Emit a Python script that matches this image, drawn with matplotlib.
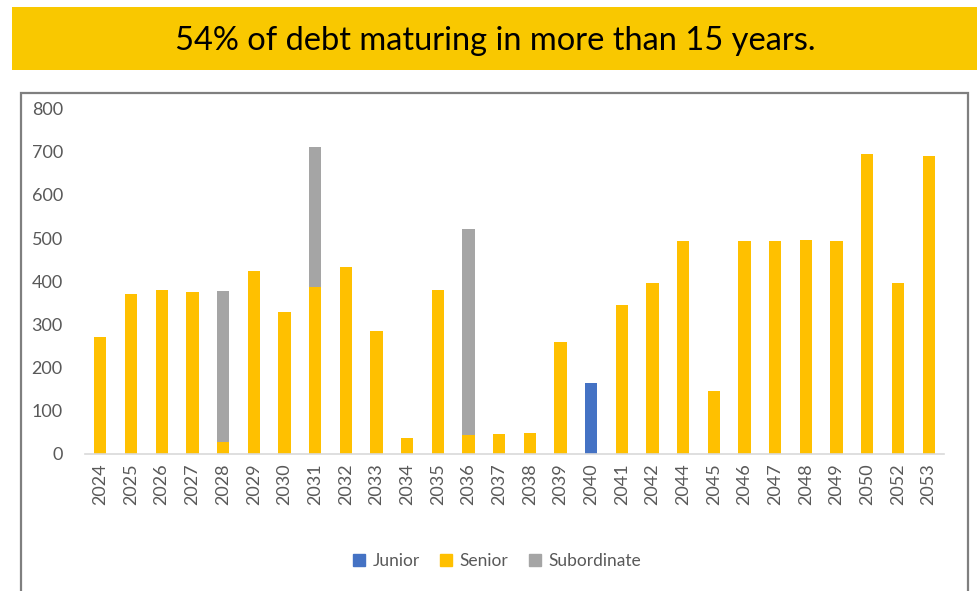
import matplotlib.pyplot as plt
import matplotlib.patches as mpatches
import numpy as np

years = ['2024', '2025', '2026', '2027', '2028', '2029', '2030', '2031', '2032', '2033',
         '2034', '2035', '2036', '2037', '2038', '2039', '2040', '2041', '2042', '2044',
         '2045', '2046', '2047', '2048', '2049', '2050', '2052', '2053']
junior = [0, 0, 0, 0, 0, 0, 0, 0, 0, 0,
          0, 0, 0, 0, 0, 0, 164, 0, 0, 0,
          0, 0, 0, 0, 0, 0, 0, 0]
senior = [272, 371, 379, 374, 28, 423, 329, 387, 434, 285,
          38, 379, 43, 46, 49, 259, 0, 345, 397, 494,
          147, 494, 494, 496, 494, 694, 395, 691]
subordinate = [0, 0, 0, 0, 349, 0, 0, 323, 0, 0,
               0, 0, 479, 0, 0, 0, 0, 0, 0, 0,
               0, 0, 0, 0, 0, 0, 0, 0]

c_junior = '#4472C4'
c_senior = '#FFC000'
c_sub = '#A5A5A5'

plt.rcParams['font.family'] = ['Lato', 'DejaVu Sans']

fig = plt.figure(figsize=(9.77, 5.91), dpi=100)
W, H = 977, 591

# yellow title banner
fig.patches.append(mpatches.Rectangle((12 / W, 1 - 70 / H), 965 / W, 63 / H,
                                      transform=fig.transFigure, facecolor='#F9C800',
                                      edgecolor='none', zorder=0))
fig.text(495 / W, 1 - 41 / H, '54% of debt maturing in more than 15 years.',
         ha='center', va='center', fontsize=23.5, color='black')

# chart frame
fig.patches.append(mpatches.Rectangle((21 / W, -0.05), 947 / W, 1 - 93 / H + 0.05,
                                      transform=fig.transFigure, fill=False,
                                      edgecolor='#7F7F7F', lw=1.6, zorder=0))

ax = fig.add_axes([85 / W, 1 - 454 / H, 859 / W, 345.5 / H])
ax.set_zorder(2)
x = np.arange(len(years))
w = 0.4
ax.bar(x, junior, w, color=c_junior, label='Junior')
ax.bar(x, senior, w, bottom=junior, color=c_senior, label='Senior')
ax.bar(x, subordinate, w, bottom=np.array(junior) + np.array(senior), color=c_sub,
       label='Subordinate')

ax.set_xlim(-0.5, len(years) - 0.5)
ax.set_ylim(0, 800)
ax.set_yticks(range(0, 801, 100))
ax.set_xticks(x)
ax.set_xticklabels(years, rotation=90)
for s in ['left', 'right', 'top']:
    ax.spines[s].set_visible(False)
ax.spines['bottom'].set_color('#D9D9D9')
ax.spines['bottom'].set_linewidth(1.2)
ax.tick_params(axis='both', length=0, labelsize=13, labelcolor='#595959')
ax.tick_params(axis='y', pad=16)
ax.tick_params(axis='x', pad=7)
ax.set_facecolor('none')

handles = [mpatches.Patch(color=c_junior, label='Junior'),
           mpatches.Patch(color=c_senior, label='Senior'),
           mpatches.Patch(color=c_sub, label='Subordinate')]
fig.legend(handles=handles, loc='center', bbox_to_anchor=(497 / W, 1 - 561 / H), ncol=3,
           frameon=False, fontsize=12.5, handlelength=0.7, handleheight=0.7,
           handletextpad=0.4, columnspacing=1.2, labelcolor='#595959')

fig.savefig('out.png', dpi=100)
